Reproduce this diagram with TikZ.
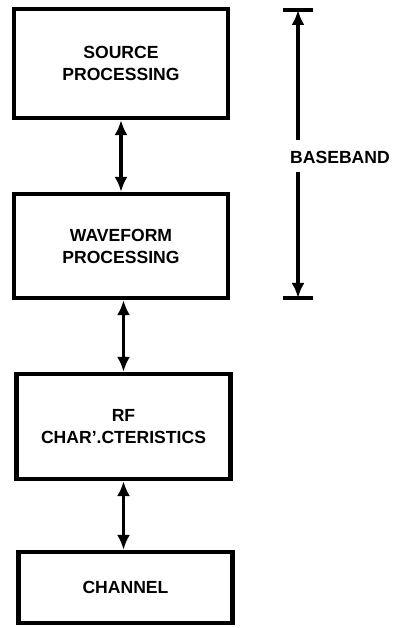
\documentclass[tikz,border=0pt]{standalone}
\usepackage{fontspec}
\setmainfont{Liberation Sans}
\usepackage{tikz}
\usetikzlibrary{arrows.meta}
\pgfdeclarelayer{nodelayer}
\pgfdeclarelayer{edgelayer}
\pgfsetlayers{edgelayer,nodelayer,main}
\tikzstyle{none}=[inner sep=-1pt]
\tikzset{box/.style={draw=black, fill=white, line width=2.4pt, minimum width=4.28cm, inner sep=0pt,
align=center, font=\bfseries\fontsize{10}{12.5}\selectfont}}
\tikzset{link/.style={line width=1.9pt, {Latex[length=3mm,width=2.6mm]}-{Latex[length=3mm,width=2.6mm]}}}
\tikzset{span/.style={line width=1.9pt, -{Latex[length=3mm,width=2.6mm]}}}
\tikzset{bar/.style={line width=2.4pt}}

\begin{document}
\begin{tikzpicture}
    			\useasboundingbox (0, 0) rectangle (7.92, 12.56);
    			\begin{pgfonlayer}{nodelayer}
    				\node [style=box, minimum height=2.18cm] (0) at (2.42, 11.29) {SOURCE\\PROCESSING};
    				\node [style=box, minimum height=2.08cm] (1) at (2.42, 7.64) {WAVEFORM\\PROCESSING};
    				\node [style=box, minimum height=2.1cm] (2) at (2.47, 4.03) {RF\\CHAR'.CTERISTICS};
    				\node [style=box, minimum height=1.42cm] (3) at (2.51, 0.81) {CHANNEL};
    				\node [style=none] (4) at (5.66, 12.36) {};
    				\node [style=none] (5) at (6.26, 12.36) {};
    				\node [style=none] (6) at (5.96, 12.36) {};
    				\node [style=none] (7) at (5.96, 9.76) {};
    				\node [style=none] (8) at (5.96, 9.12) {};
    				\node [style=none] (9) at (5.96, 6.6) {};
    				\node [style=none] (10) at (5.66, 6.6) {};
    				\node [style=none] (11) at (6.26, 6.6) {};
    				\node [style=none, font=\bfseries\fontsize{10}{12}\selectfont] (12) at (6.8, 9.42) {BASEBAND};
    			\end{pgfonlayer}
    			\begin{pgfonlayer}{edgelayer}
    				\draw [style=link] (0.south) to (0.south |- 1.north);
    				\draw [style=link] (2.north |- 1.south) to (2.north);
    				\draw [style=link] (2.south) to (2.south |- 3.north);
    				\draw [style=bar] (4.center) to (5.center);
    				\draw [style=bar] (10.center) to (11.center);
    				\draw [style=span] (7.center) to (6.center);
    				\draw [style=span] (8.center) to (9.center);
    			\end{pgfonlayer}
    		\end{tikzpicture}
\end{document}
